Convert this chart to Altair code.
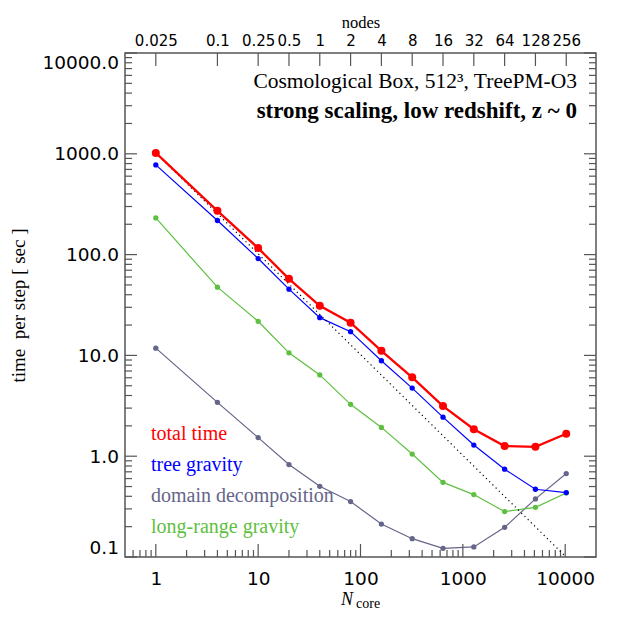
import altair as alt
import pandas as pd

# ---- data ----
ncore = [1, 4, 10, 20, 40, 80, 160, 320, 640, 1280, 2560, 5120, 10240]
node_labels = ["0.025", "0.1", "0.25", "0.5", "1", "2", "4", "8", "16", "32", "64", "128", "256"]
total_time = [1020, 272, 116, 57.5, 31.0, 21.1, 11.1, 6.06, 3.14, 1.85, 1.26, 1.24, 1.67]
tree_gravity = [776, 218, 91.4, 45.4, 23.7, 17.2, 8.85, 4.74, 2.44, 1.29, 0.743, 0.47, 0.436]
domain_decomp = [11.8, 3.42, 1.53, 0.826, 0.503, 0.355, 0.212, 0.152, 0.122, 0.126, 0.197, 0.377, 0.673]
long_range = [231, 47.5, 21.8, 10.6, 6.4, 3.27, 1.93, 1.05, 0.55, 0.416, 0.282, 0.311, 0.432]
ideal_n = [1, 10200]
ideal_t = [1020, 0.1]

series_names = ["total time", "tree gravity", "domain decomposition", "long-range gravity"]
series_vals = [total_time, tree_gravity, domain_decomp, long_range]
series_colors = ["#ff0000", "#0000ff", "#65658a", "#5ec040"]
series_width = [2.3, 1.2, 1.2, 1.2]
series_size = [64, 28, 28, 28]

x_major = [1, 10, 100, 1000, 10000]
x_minor = [m * 10 ** e for e in range(-1, 5) for m in range(2, 10) if 0.5 < m * 10 ** e < 20000]
y_major = [0.1, 1, 10, 100, 1000, 10000]
y_minor = [m * 10 ** e for e in range(-1, 4) for m in range(2, 10)]

W, H = 471, 504
TICK = "#555555"
xs = alt.Scale(type="log", domain=[0.5, 20000], nice=False)
ys = alt.Scale(type="log", domain=[0.1, 10000], nice=False)

bottom_axis = alt.Axis(orient="bottom", values=x_major, format="d", ticks=False, tickSize=0, domain=False,
                       grid=False, labelFont="DejaVu Sans", labelFontSize=18.5, labelColor="black",
                       labelPadding=12, labelFlush=False, labelOverlap=False, title=None)
top_expr = "".join(f"datum.value == {n} ? '{lab}' : " for n, lab in zip(ncore, node_labels)) + "''"
top_axis = alt.Axis(orient="top", values=ncore, labelExpr=top_expr, ticks=False, tickSize=0,
                    domain=False, grid=False, labelFont="DejaVu Sans", labelFontSize=15,
                    labelColor="black", labelPadding=5, labelFlush=False, labelOverlap=False,
                    title="nodes", titleFont="Liberation Serif", titleFontSize=16.5,
                    titleFontWeight="normal", titleColor="black", titleX=W / 2, titleY=-26,
                    titleAlign="center", titleBaseline="alphabetic")
left_axis = alt.Axis(orient="left", values=y_major, format=".1f", ticks=False, tickSize=0, domain=False,
                     grid=False, labelFont="DejaVu Sans", labelFontSize=18.5, labelColor="black",
                     labelPadding=6.5, labelFlush=True, labelOverlap=False,
                     title="time\u00a0\u00a0per step [ sec ]", titleFont="Liberation Serif", titleFontSize=19,
                     titleFontWeight="normal", titleColor="black", titleAngle=270,
                     titleX=-107, titleY=H / 2, titleAlign="center", titleBaseline="middle")

layers = []

# invisible layer that carries the bottom and left axes
axis_df = pd.DataFrame({"n": ncore, "t": total_time})
layers.append(alt.Chart(axis_df).mark_point(opacity=0).encode(
    x=alt.X("n:Q", scale=xs, axis=bottom_axis), y=alt.Y("t:Q", scale=ys, axis=left_axis)))

# tick marks (inward, IDL style)
dx_major = pd.DataFrame({"v": x_major})
dx_minor = pd.DataFrame({"v": x_minor})
dy_major = pd.DataFrame({"v": y_major})
dy_minor = pd.DataFrame({"v": y_minor})
dtop = pd.DataFrame({"n": ncore})

layers.append(alt.Chart(dtop).mark_rule(color=TICK, strokeWidth=1.2).encode(
    x=alt.X("n:Q", scale=xs, axis=top_axis), y=alt.value(0), y2=alt.value(13)))
layers.append(alt.Chart(dx_major).mark_rule(color=TICK, strokeWidth=1.2).encode(
    x=alt.X("v:Q", scale=xs, axis=None), y=alt.value(H - 13), y2=alt.value(H)))
layers.append(alt.Chart(dx_minor).mark_rule(color=TICK, strokeWidth=1.2).encode(
    x=alt.X("v:Q", scale=xs, axis=None), y=alt.value(H - 7), y2=alt.value(H)))
layers.append(alt.Chart(dy_major).mark_rule(color=TICK, strokeWidth=1.2).encode(
    y=alt.Y("v:Q", scale=ys, axis=None), x=alt.value(0), x2=alt.value(12)))
layers.append(alt.Chart(dy_minor).mark_rule(color=TICK, strokeWidth=1.2).encode(
    y=alt.Y("v:Q", scale=ys, axis=None), x=alt.value(0), x2=alt.value(7)))
layers.append(alt.Chart(dy_major).mark_rule(color=TICK, strokeWidth=1.2).encode(
    y=alt.Y("v:Q", scale=ys, axis=None), x=alt.value(W - 12), x2=alt.value(W)))
layers.append(alt.Chart(dy_minor).mark_rule(color=TICK, strokeWidth=1.2).encode(
    y=alt.Y("v:Q", scale=ys, axis=None), x=alt.value(W - 7), x2=alt.value(W)))

# data series (draw red last)
for i in [2, 3, 1]:
    df = pd.DataFrame({"n": ncore, "t": series_vals[i]})
    base = alt.Chart(df).encode(x=alt.X("n:Q", scale=xs, axis=None), y=alt.Y("t:Q", scale=ys, axis=None))
    layers.append(base.mark_line(color=series_colors[i], strokeWidth=series_width[i]))
    layers.append(base.mark_circle(color=series_colors[i], size=series_size[i], opacity=1))

# ideal scaling
dideal = pd.DataFrame({"n": ideal_n, "t": ideal_t})
layers.append(alt.Chart(dideal).mark_line(color="black", strokeWidth=1.2, strokeDash=[1.2, 3.3], clip=True).encode(
    x=alt.X("n:Q", scale=xs, axis=None), y=alt.Y("t:Q", scale=ys, axis=None)))

df = pd.DataFrame({"n": ncore, "t": series_vals[0]})
base = alt.Chart(df).encode(x=alt.X("n:Q", scale=xs, axis=None), y=alt.Y("t:Q", scale=ys, axis=None))
layers.append(base.mark_line(color=series_colors[0], strokeWidth=series_width[0]))
layers.append(base.mark_circle(color=series_colors[0], size=series_size[0], opacity=1))

# legend text
for i, name in enumerate(series_names):
    layers.append(alt.Chart(pd.DataFrame({"t": [name]})).mark_text(
        align="left", baseline="alphabetic", font="Liberation Serif", fontSize=20,
        color=series_colors[i]).encode(x=alt.value(26), y=alt.value(387 + 31 * i), text="t:N"))

# annotations
ann_text = ["Cosmological Box, 512\u00b3, TreePM-O3", "strong scaling, low redshift, z ~ 0"]
ann_weight = ["normal", "bold"]
ann_size = [21.5, 23]
ann_base = [35, 65]
for i, t in enumerate(ann_text):
    layers.append(alt.Chart(pd.DataFrame({"t": [t]})).mark_text(
        align="right", baseline="alphabetic", font="Liberation Serif", fontSize=ann_size[i],
        fontWeight=ann_weight[i], color="black").encode(
        x=alt.value(452), y=alt.value(ann_base[i]), text="t:N"))

# x-axis title N_core
layers.append(alt.Chart(pd.DataFrame({"t": ["N"]})).mark_text(
    align="left", baseline="alphabetic", font="Liberation Serif", fontSize=18, fontStyle="italic",
    color="black").encode(x=alt.value(216), y=alt.value(551.5), text="t:N"))
layers.append(alt.Chart(pd.DataFrame({"t": ["core"]})).mark_text(
    align="left", baseline="alphabetic", font="Liberation Serif", fontSize=14,
    color="black").encode(x=alt.value(231), y=alt.value(554.5), text="t:N"))

chart = alt.layer(*layers).resolve_axis(x="independent", y="independent").properties(
    width=W, height=H,
    autosize=alt.AutoSizeParams(type="none"),
    padding={"left": 117, "top": 45, "right": 20, "bottom": 70},
).configure_view(stroke=TICK, strokeWidth=1.5)

chart.save("out.html", embed_options={"renderer": "svg", "actions": False})
